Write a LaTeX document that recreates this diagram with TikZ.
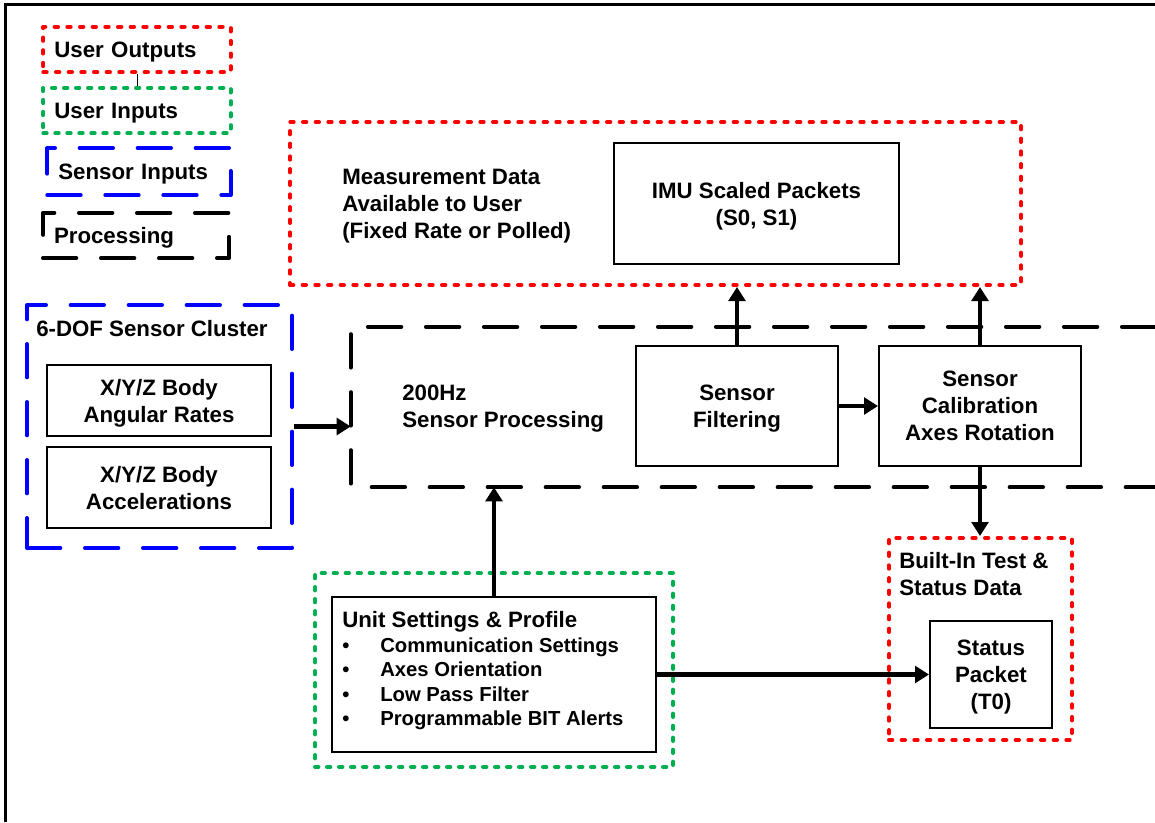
\documentclass[tikz,border=0pt]{standalone}
\usepackage{fontspec}
\setmainfont{Liberation Sans}
\usepackage{xcolor}
\usepackage{tikz}
\usetikzlibrary{arrows.meta,calc}
\definecolor{inputgreen}{HTML}{00B050}
\tikzset{
	block/.style={rectangle, draw, line width=1.5pt, align=center, text depth=0pt},
	outframe/.style={rectangle, draw=red, line width=3pt, dash pattern=on 2.5pt off 7pt, line cap=round, line join=round},
	inframe/.style={rectangle, draw=inputgreen, line width=3pt, dash pattern=on 2.5pt off 6.5pt, line cap=round, line join=round},
	sensframe/.style={rectangle, draw=blue, line width=3pt, dash pattern=on 25pt off 18.5pt, line cap=round, line join=round},
	procframe/.style={draw=black, line width=3pt, dash pattern=on 25pt off 18.5pt, line cap=round, line join=round},
	legend/.style={text width=124pt, align=left, inner sep=8.25pt, minimum height=34pt, text depth=0pt},
	caption/.style={anchor=west, align=left, inner sep=0pt, text depth=0pt},
	flow/.style={line width=3.4pt, -{Triangle[length=10.5pt,width=12.5pt]}}
}
\begin{document}
\begin{tikzpicture}[x=0.75pt, y=-0.75pt, node distance=45.75pt, font=\bfseries\fontsize{16.7}{20.25}\selectfont]
    \useasboundingbox (0,0) rectangle (1155,822);
    \draw [line width=2.25pt] (5,822) -- (5,4) -- (1155,4);
    \node (uout) [outframe, legend] at (137,49.5) {User Outputs};
    \node (uin) [inframe, legend, below of=uout] {User Inputs};
    \node (sin) [sensframe, legend, text width=121pt, minimum height=35.25pt, below of=uin, xshift=1.5pt] {Sensor Inputs};
    \node (procl) [procframe, legend, text width=123pt, below of=sin, xshift=-2.25pt, yshift=-2.25pt] {Processing};
    \draw [line width=0.75pt] (uout.south) -- (uin.north);
    \node (meas) [outframe, minimum width=548.25pt, minimum height=122.25pt] at (655.5,203.5) {};
    \node (meastext) [caption] at (342,204) {Measurement Data\\Available to User\\(Fixed Rate or Polled)};
    \node (imu) [block, minimum width=213.75pt, minimum height=90.75pt] at (756.5,203.5) {IMU Scaled Packets\\(S0, S1)};
    \node (proc) [minimum width=603pt, minimum height=120pt, inner sep=0pt] at (753,407) {};
    \draw [procframe] (proc.north east) -- (proc.north west) -- (proc.south west) -- (proc.south east);
    \node (proctext) [caption] at (402,406.5) {200Hz\\Sensor Processing};
    \node (filt) [block, minimum width=151.5pt, minimum height=90pt] at (737,406) {Sensor\\Filtering};
    \node (calib) [block, minimum width=151.5pt, minimum height=90pt] at (980,406) {Sensor\\Calibration\\Axes Rotation};
    \node (cluster) [sensframe, minimum width=198.75pt, minimum height=182.25pt] at (159.5,426.5) {};
    \node (clustertext) [caption] at (36,328) {6-DOF Sensor Cluster};
    \node (rates) [block, minimum width=168pt, minimum height=53.25pt] at (159,400.5) {X/Y/Z Body\\Angular Rates};
    \node (accel) [block, minimum width=168pt, minimum height=60.75pt] at (159,487.5) {X/Y/Z Body\\Accelerations};
    \node (unitframe) [inframe, minimum width=268.5pt, minimum height=145.5pt] at (494,670) {};
    \node (unit) [block, minimum width=243pt, minimum height=116.25pt] at (494,674.5) {};
    \node (unittext) [caption, font=\bfseries\fontsize{15.2}{18.4}\selectfont] at (342,668.5) {{\fontsize{16.7}{18.4}\selectfont Unit Settings \& Profile}\\
        \makebox[28.5pt][l]{\textbullet}Communication Settings\\
        \makebox[28.5pt][l]{\textbullet}Axes Orientation\\
        \makebox[28.5pt][l]{\textbullet}Low Pass Filter\\
        \makebox[28.5pt][l]{\textbullet}Programmable BIT Alerts};
    \node (bit) [outframe, minimum width=137.25pt, minimum height=151.5pt] at (980.5,639) {};
    \node (bittext) [caption] at (899,574) {Built-In Test \&\\Status Data};
    \node (status) [block, minimum width=91.5pt, minimum height=80.25pt] at (991,674.5) {Status\\Packet\\(T0)};
    \draw [flow] (cluster.east) -- (cluster.east -| proc.west);
    \draw [flow] (unit.north) -- (unit.north |- proc.south);
    \draw [flow] (unit.east) -- (status.west);
    \draw [flow] (filt.east) -- (calib.west);
    \draw [flow] (filt.north) -- (filt.north |- meas.south);
    \draw [flow] (calib.north) -- (calib.north |- meas.south);
    \draw [flow] (calib.south) -- (calib.south |- bit.north);
\end{tikzpicture}
\end{document}
